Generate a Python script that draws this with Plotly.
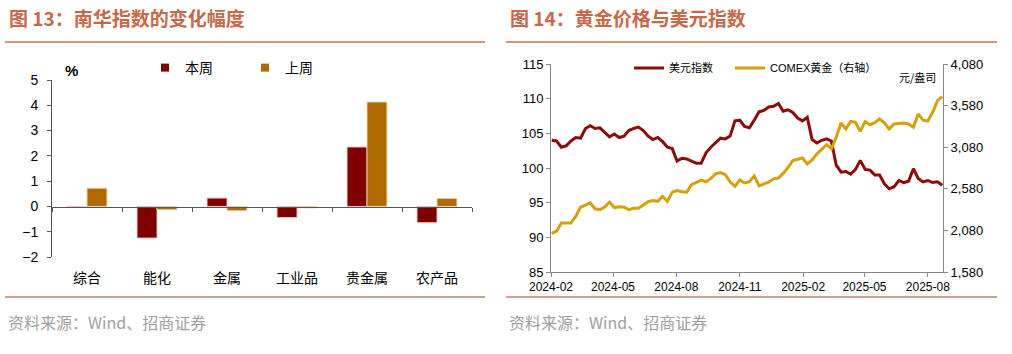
import plotly.graph_objects as go

# ---------------- data: left chart (南华指数的变化幅度, %) ----------------
categories = ["综合", "能化", "金属", "工业品", "贵金属", "农产品"]
this_week = [-0.02, -1.25, 0.33, -0.44, 2.35, -0.64]
last_week = [0.72, -0.13, -0.17, -0.06, 4.13, 0.32]

# ---------------- data: right chart (weekly readings) ----------------
dates = [
    "2024-02-02", "2024-02-09", "2024-02-16", "2024-02-23", "2024-03-01", "2024-03-08",
    "2024-03-15", "2024-03-22", "2024-03-29", "2024-04-05", "2024-04-12", "2024-04-19",
    "2024-04-26", "2024-05-03", "2024-05-10", "2024-05-17", "2024-05-24", "2024-05-31",
    "2024-06-07", "2024-06-14", "2024-06-21", "2024-06-28", "2024-07-05", "2024-07-12",
    "2024-07-19", "2024-07-26", "2024-08-02", "2024-08-09", "2024-08-16", "2024-08-23",
    "2024-08-30", "2024-09-06", "2024-09-13", "2024-09-20", "2024-09-27", "2024-10-04",
    "2024-10-11", "2024-10-18", "2024-10-25", "2024-11-01", "2024-11-08", "2024-11-15",
    "2024-11-22", "2024-11-29", "2024-12-06", "2024-12-13", "2024-12-20", "2024-12-27",
    "2025-01-03", "2025-01-10", "2025-01-17", "2025-01-24", "2025-01-31", "2025-02-07",
    "2025-02-14", "2025-02-21", "2025-02-28", "2025-03-07", "2025-03-14", "2025-03-21",
    "2025-03-28", "2025-04-04", "2025-04-11", "2025-04-18", "2025-04-25", "2025-05-02",
    "2025-05-09", "2025-05-16", "2025-05-23", "2025-05-30", "2025-06-06", "2025-06-13",
    "2025-06-20", "2025-06-27", "2025-07-04", "2025-07-11", "2025-07-18", "2025-07-25",
    "2025-08-01", "2025-08-08", "2025-08-15", "2025-08-22",
]
usd_index = [
    104.0, 103.9, 103.0, 103.2, 103.9, 104.4, 104.3, 105.7, 106.1, 105.7, 105.8, 105.2,
    104.5, 104.9, 104.4, 104.6, 105.4, 105.7, 105.9, 105.4, 104.6, 104.1, 104.4, 103.8,
    103.0, 102.8, 101.0, 101.4, 101.3, 101.0, 100.7, 100.7, 102.2, 103.0, 103.7, 104.3,
    104.2, 104.6, 106.8, 106.9, 106.0, 105.8, 106.9, 108.1, 108.3, 108.8, 108.9, 109.3,
    108.2, 108.4, 108.0, 107.2, 106.8, 107.3, 104.1, 103.6, 104.0, 104.2, 103.9, 100.4,
    99.4, 99.5, 99.1, 99.8, 101.1, 99.8, 99.7, 99.0, 99.0, 97.7, 97.0, 97.3,
    98.2, 97.9, 98.1, 99.9, 98.5, 98.0, 98.2, 97.9, 98.0, 97.5,
]
comex_gold = [
    2045, 2070, 2170, 2173, 2170, 2250, 2360, 2385, 2410, 2340, 2330, 2360,
    2420, 2355, 2365, 2360, 2330, 2345, 2345, 2385, 2425, 2440, 2430, 2490,
    2430, 2540, 2560, 2545, 2540, 2630, 2660, 2685, 2665, 2705, 2760, 2775,
    2750, 2665, 2610, 2685, 2650, 2665, 2735, 2615, 2640, 2660, 2700, 2710,
    2765, 2835, 2920, 2935, 2950, 2880, 2926, 3000, 3050, 3110, 3060, 3200,
    3370, 3300, 3390, 3380, 3270, 3387, 3350, 3375, 3420, 3370, 3300, 3360,
    3365, 3370, 3360, 3320, 3480, 3405, 3395, 3500, 3640, 3687,
]
x_tick_dates = ["2024-02-01", "2024-05-01", "2024-08-01", "2024-11-01",
                "2025-02-01", "2025-05-01", "2025-08-01"]
x_tick_text = ["2024-02", "2024-05", "2024-08", "2024-11", "2025-02", "2025-05", "2025-08"]
right_ticks = [1580, 2080, 2580, 3080, 3580, 4080]

# ---------------- geometry helpers ----------------
W, H = 1012, 354
def px(x):
    return x / W
def py(y):
    return 1 - y / H

RED = "#800000"
ORANGE = "#B06A00"
TITLE_C = "#C5694A"
LINE_C = "#C8714F"
FONT = "Liberation Sans, Arial, Noto Sans CJK SC"
CJK = "Noto Sans CJK SC"

fig = go.Figure()

# bars
fig.add_trace(go.Bar(x=categories, y=this_week, name="本周",
                     marker=dict(color=RED, line=dict(color="rgba(240,200,200,0.9)", width=1)),
                     xaxis="x", yaxis="y", showlegend=False))
fig.add_trace(go.Bar(x=categories, y=last_week, name="上周",
                     marker=dict(color=ORANGE, line=dict(color="rgba(240,215,180,0.9)", width=1)),
                     xaxis="x", yaxis="y", showlegend=False))
# legend entries (square swatches)
fig.add_trace(go.Scatter(x=[None], y=[None], mode="markers", name="本周",
                         marker=dict(symbol="square", size=8, color=RED), xaxis="x", yaxis="y", legend="legend"))
fig.add_trace(go.Scatter(x=[None], y=[None], mode="markers", name="上周",
                         marker=dict(symbol="square", size=8, color=ORANGE), xaxis="x", yaxis="y", legend="legend2"))
# helper trace so the zero-line category axis carries categories
fig.add_trace(go.Scatter(x=categories, y=[0] * len(categories), mode="markers", marker=dict(opacity=0),
                         xaxis="x3", yaxis="y", showlegend=False, hoverinfo="skip"))

# lines
fig.add_trace(go.Scatter(x=dates, y=usd_index, mode="lines", name="美元指数",
                         line=dict(color="#8C0C0C", width=3), xaxis="x2", yaxis="y2", legend="legend3"))
fig.add_trace(go.Scatter(x=dates, y=comex_gold, mode="lines", name="COMEX黄金（右轴）",
                         line=dict(color="#D4A00E", width=3), xaxis="x2", yaxis="y3", legend="legend4"))

axis_common = dict(showgrid=False, zeroline=False, ticks="outside", ticklen=4, automargin=False)

def leg(x, size, family):
    return dict(orientation="h", x=px(x), y=py(68), xanchor="left", yanchor="middle",
                bgcolor="rgba(0,0,0,0)", borderwidth=0, font=dict(size=size, family=family))

fig.update_layout(
    template="none",
    width=W, height=H, autosize=False,
    margin=dict(l=0, r=0, t=0, b=0, pad=0),
    paper_bgcolor="white", plot_bgcolor="rgba(0,0,0,0)",
    font=dict(family=FONT, color="#000000"),
    barmode="group", bargap=0.43, bargroupgap=0,
    xaxis=dict(domain=[px(52), px(472)], anchor="y", type="category", showline=False, ticks="",
               showgrid=False, zeroline=False, automargin=False,
               tickfont=dict(size=14, family=CJK), ticklabelstandoff=11),
    xaxis3=dict(overlaying="x", anchor="free", position=py(206.7), type="category",
                categoryorder="array", categoryarray=categories, range=[-0.5, 5.5],
                showline=True, linecolor="#555555", linewidth=1, ticks="outside", tickson="boundaries",
                ticklen=4, tickcolor="#555555", showticklabels=False, showgrid=False, zeroline=False,
                automargin=False),
    yaxis=dict(domain=[py(257), py(80)], anchor="x", range=[-2, 5], dtick=1,
               showline=True, linecolor="#555555", tickcolor="#555555",
               tickfont=dict(size=14), ticklabelstandoff=6, **axis_common),
    xaxis2=dict(domain=[px(551), px(943)], anchor="y2", type="date",
                range=["2024-02-01", "2025-08-23"], tickvals=x_tick_dates, ticktext=x_tick_text,
                showline=True, linecolor="#888888", tickcolor="#888888", tickfont=dict(size=12), **axis_common),
    yaxis2=dict(domain=[py(272), py(64)], anchor="x2", range=[85, 115], dtick=5,
                showline=True, linecolor="#888888", tickcolor="#888888", tickfont=dict(size=13), **axis_common),
    yaxis3=dict(overlaying="y2", anchor="x2", side="right", range=[1580, 4080], tickvals=right_ticks,
                tickformat=",", showline=True, linecolor="#888888", tickcolor="#888888",
                tickfont=dict(size=13), **axis_common),
    legend=leg(145, 14, CJK),
    legend2=leg(245, 14, CJK),
    legend3=leg(629, 11, FONT),
    legend4=leg(730, 11, FONT),
)

shapes = []
for x0, x1 in [(5, 485), (506, 997)]:
    shapes.append(dict(type="line", xref="paper", yref="paper", x0=px(x0), x1=px(x1), y0=py(42), y1=py(42),
                       line=dict(color=LINE_C, width=1.5)))
    shapes.append(dict(type="line", xref="paper", yref="paper", x0=px(x0), x1=px(x1), y0=py(297), y1=py(297),
                       line=dict(color="#BE8366", width=1.5)))
fig.update_layout(shapes=shapes)

ann = []
for x0, t in [(7, "图 13：南华指数的变化幅度"), (508, "图 14：黄金价格与美元指数")]:
    ann.append(dict(xref="paper", yref="paper", x=px(x0), y=py(18), xanchor="left", yanchor="middle",
                    text="<b>" + t + "</b>", showarrow=False, font=dict(size=19, color=TITLE_C, family=CJK)))
    ann.append(dict(xref="paper", yref="paper", x=px(x0 - 1), y=py(322), xanchor="left", yanchor="middle",
                    text="资料来源：Wind、招商证券", showarrow=False, font=dict(size=16, color="#A0A0A0", family=CJK)))
ann.append(dict(xref="paper", yref="paper", x=px(63), y=py(70), xanchor="left", yanchor="middle",
                text="<b>%</b>", showarrow=False, font=dict(size=15, color="#000000", family=FONT)))
ann.append(dict(xref="paper", yref="paper", x=px(917), y=py(77), xanchor="center", yanchor="middle",
                text="元/盎司", showarrow=False, font=dict(size=11, color="#000000", family=CJK)))
fig.update_layout(annotations=ann)

fig.write_html("out.html")
